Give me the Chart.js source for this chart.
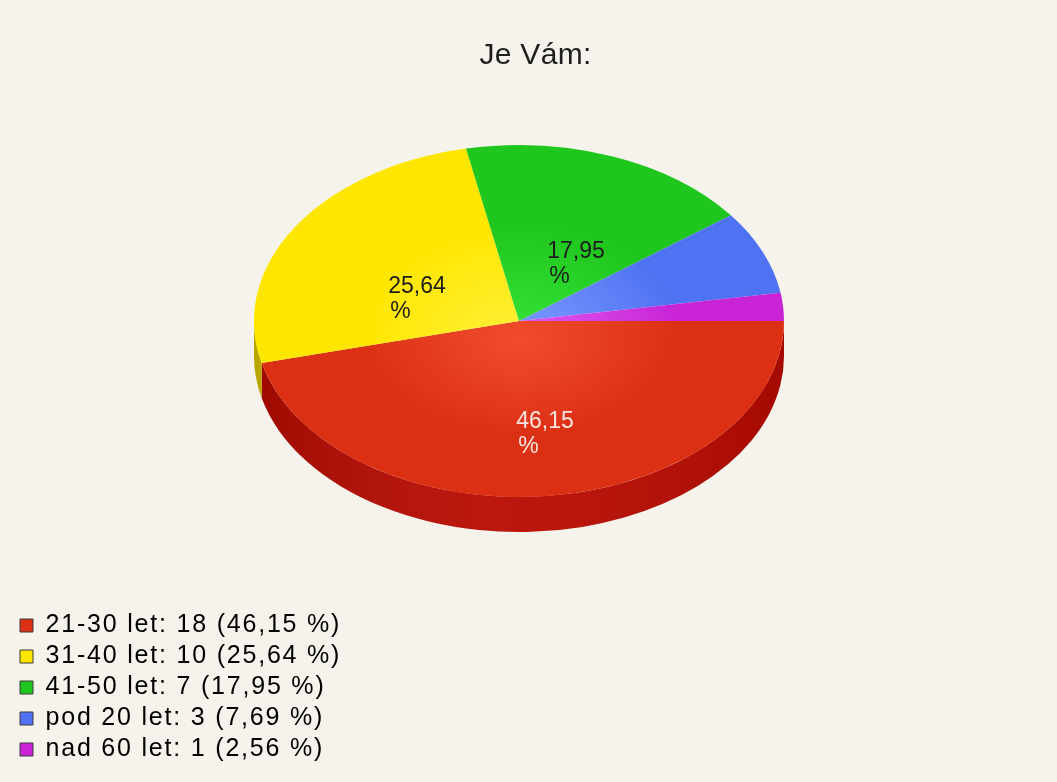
<!DOCTYPE html>
<html lang="cs">
<head>
<meta charset="utf-8">
<title>Je Vám:</title>
<script src="https://cdn.jsdelivr.net/npm/chart.js"></script>
<style>
  html, body { margin: 0; padding: 0; background: #f5f3eb; }
  canvas { display: block; }
</style>
</head>
<body>
<canvas id="ageChart" width="1057" height="782"></canvas>
<script>
// survey answers
const ageGroups = ['21-30 let', '31-40 let', '41-50 let', 'pod 20 let', 'nad 60 let'];
const answerCounts = [18, 10, 7, 3, 1];

// slice colours: top face, highlight, side wall
const topColors = ['#dc3014', '#ffe600', '#1ec61e', '#4f72f2', '#c824d6'];
const glowColors = ['#f04c2e', '#fff03a', '#3ae43a', '#7e9cff', '#e05cf0'];
const sideColors = ['#b80a00', '#d6c000', '#149414', '#3450c4', '#9612a6'];

// where the flattened pie sits on the page
const PIE = { cx: 519, cy: 321, rx: 265, ry: 176, depth: 35 };

const total = answerCounts.reduce((a, b) => a + b, 0);
const pct = v => (v / total * 100).toFixed(2).replace('.', ',');

// run a box method with a given letter spacing on the canvas
function withSpacing(chart, box, name, px) {
  const orig = box[name].bind(box);
  box[name] = function (...args) {
    chart.ctx.letterSpacing = px;
    const out = orig(...args);
    chart.ctx.letterSpacing = '0px';
    return out;
  };
}

const pie3d = {
  id: 'pie3d',
  afterInit(chart) {
    // loose letter spacing for the legend and title text
    withSpacing(chart, chart.legend, 'fit', '1.8px');
    withSpacing(chart, chart.legend, 'draw', '1.8px');
    withSpacing(chart, chart.titleBlock, 'draw', '0.3px');
  },
  beforeDatasetsDraw(chart) {
    const ctx = chart.ctx;
    const arcs = chart.getDatasetMeta(0).data;

    // side walls of the front half
    arcs.forEach((arc, i) => {
      for (const k of [0, 2 * Math.PI]) {
        const lo = Math.max(arc.startAngle, k);
        const hi = Math.min(arc.endAngle, k + Math.PI);
        if (lo >= hi) continue;
        ctx.beginPath();
        ctx.ellipse(PIE.cx, PIE.cy, PIE.rx, PIE.ry, 0, lo - k, hi - k, false);
        ctx.ellipse(PIE.cx, PIE.cy + PIE.depth, PIE.rx, PIE.ry, 0, hi - k, lo - k, true);
        ctx.closePath();
        ctx.fillStyle = sideColors[i];
        ctx.fill();
        const shade = ctx.createLinearGradient(PIE.cx - PIE.rx, 0, PIE.cx + PIE.rx, 0);
        shade.addColorStop(0, 'rgba(0,0,0,0.14)');
        shade.addColorStop(0.5, 'rgba(255,255,255,0.05)');
        shade.addColorStop(1, 'rgba(0,0,0,0.1)');
        ctx.fillStyle = shade;
        ctx.fill();
      }
    });

    // squash the round pie into the top face
    const { x, y, outerRadius } = arcs[0];
    ctx.save();
    ctx.translate(PIE.cx, PIE.cy);
    ctx.scale(PIE.rx / outerRadius, PIE.ry / outerRadius);
    ctx.translate(-x, -y);
  },
  afterDatasetsDraw(chart) {
    const ctx = chart.ctx;
    ctx.restore();

    // percentage labels on the bigger slices
    const arcs = chart.getDatasetMeta(0).data;
    ctx.save();
    ctx.font = '23px "Liberation Sans", Arial, sans-serif';
    ctx.textAlign = 'left';
    ctx.textBaseline = 'alphabetic';
    arcs.forEach((arc, i) => {
      const share = answerCounts[i] / total;
      if (share < 0.1) return;
      const mid = (arc.startAngle + arc.endAngle) / 2;
      const px = PIE.cx + 0.5 * PIE.rx * Math.cos(mid) + 10;
      const py = PIE.cy + 0.5 * PIE.ry * Math.sin(mid) + PIE.depth / 2 + 6;
      const text = pct(answerCounts[i]);
      const left = px - ctx.measureText(text).width / 2;
      ctx.fillStyle = i === 0 ? '#fbe4df' : '#1c1c1c';
      ctx.fillText(text, left, py - 4);
      ctx.fillText('%', left + 2, py + 21);
    });
    ctx.restore();
  }
};

new Chart(document.getElementById('ageChart'), {
  type: 'pie',
  data: {
    labels: ageGroups,
    datasets: [{
      data: answerCounts,
      borderWidth: 0,
      clip: false,
      backgroundColor(c) {
        const i = c.dataIndex;
        const area = c.chart.chartArea;
        if (!area) return topColors[i];
        const x = (area.left + area.right) / 2;
        const y = (area.top + area.bottom) / 2;
        const r = Math.min(area.width, area.height) / 2;
        const g = c.chart.ctx.createRadialGradient(x, y + r * 0.12, 0, x, y, r);
        g.addColorStop(0, glowColors[i]);
        g.addColorStop(0.6, topColors[i]);
        g.addColorStop(1, topColors[i]);
        return g;
      }
    }]
  },
  options: {
    responsive: false,
    animation: false,
    events: [],
    rotation: 90,
    layout: { padding: { left: 14, right: 0, top: 0, bottom: 14 } },
    plugins: {
      title: {
        display: true,
        text: 'Je Vám:',
        color: '#1e1e1e',
        font: { family: '"Liberation Sans", Arial, sans-serif', size: 30, weight: 'normal' },
        padding: { top: 38, bottom: 10 }
      },
      legend: {
        position: 'left',
        align: 'end',
        labels: {
          boxWidth: 13,
          boxHeight: 13,
          padding: 6,
          color: '#202020',
          font: { family: '"Liberation Sans", Arial, sans-serif', size: 25 },
          generateLabels: () => ageGroups.map((g, i) => ({
            text: `${g}: ${answerCounts[i]} (${pct(answerCounts[i])} %)`,
            fillStyle: topColors[i],
            strokeStyle: '#3a3a3a',
            lineWidth: 1,
            hidden: false,
            index: i
          }))
        }
      },
      tooltip: { enabled: false }
    }
  },
  plugins: [pie3d]
});
</script>
</body>
</html>
